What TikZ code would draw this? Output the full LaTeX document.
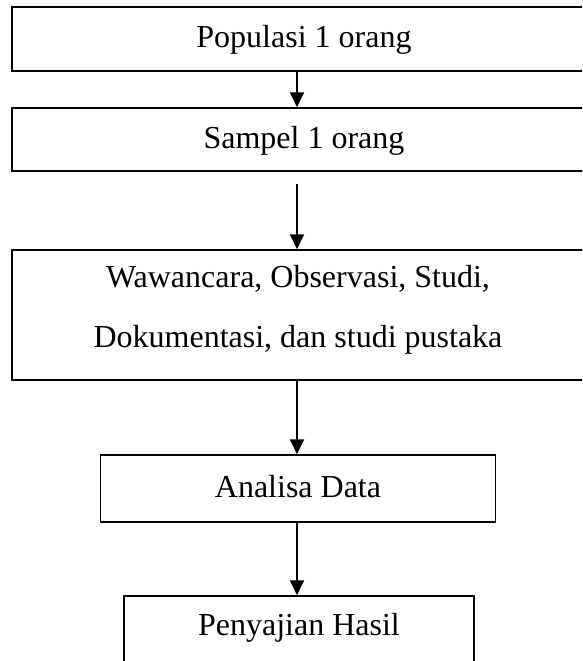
\documentclass[tikz,border=0pt]{standalone}
\usepackage{fontspec}
\setmainfont{Liberation Serif}
\usetikzlibrary{arrows, arrows.meta}
\usetikzlibrary{calc}

\tikzset{
  langkah/.style={rectangle, draw, line width=1.5pt, inner sep=0pt, align=center,
    font=\fontsize{32}{60}\selectfont},
  baris/.style={langkah, text height=22pt, text depth=5pt},
  panah/.style={line width=2pt, -{Triangle[length=15pt, width=14pt]}}
}

\begin{document}
\begin{tikzpicture}[x=1pt, y=-1pt]
      \useasboundingbox (0,0) rectangle (582,661);
      \clip (0,0) rectangle (582,661);

      \node[baris, minimum width=584pt, minimum height=64pt] (populasi) at (304,39) {Populasi 1 orang};
      \node[baris, minimum width=584pt, minimum height=63pt] (sampel) at (304,139.5) {Sampel 1 orang};
      \node[langkah, minimum width=572pt, minimum height=130pt, text height=82pt, text depth=18pt] (metode) at (298,315) {Wawancara, Observasi, Studi,\\Dokumentasi, dan studi pustaka};
      \node[baris, minimum width=395pt, minimum height=67pt] (analisa) at (298,488.5) {Analisa Data};
      \node[baris, minimum width=350pt, minimum height=71pt, text depth=15pt] (hasil) at (299,631.5) {Penyajian Hasil};

      \draw[panah] ([xshift=-7pt]populasi.south) -- ([xshift=-7pt]sampel.north);
      \draw[panah] ([xshift=-7pt, yshift=-12pt]sampel.south) -- ([xshift=-1pt]metode.north);
      \draw[panah] ([xshift=-1pt]metode.south) -- ([xshift=-1pt]analisa.north);
      \draw[panah] ([xshift=-1pt]analisa.south) -- ([xshift=-2pt]hasil.north);
    \end{tikzpicture}
\end{document}
